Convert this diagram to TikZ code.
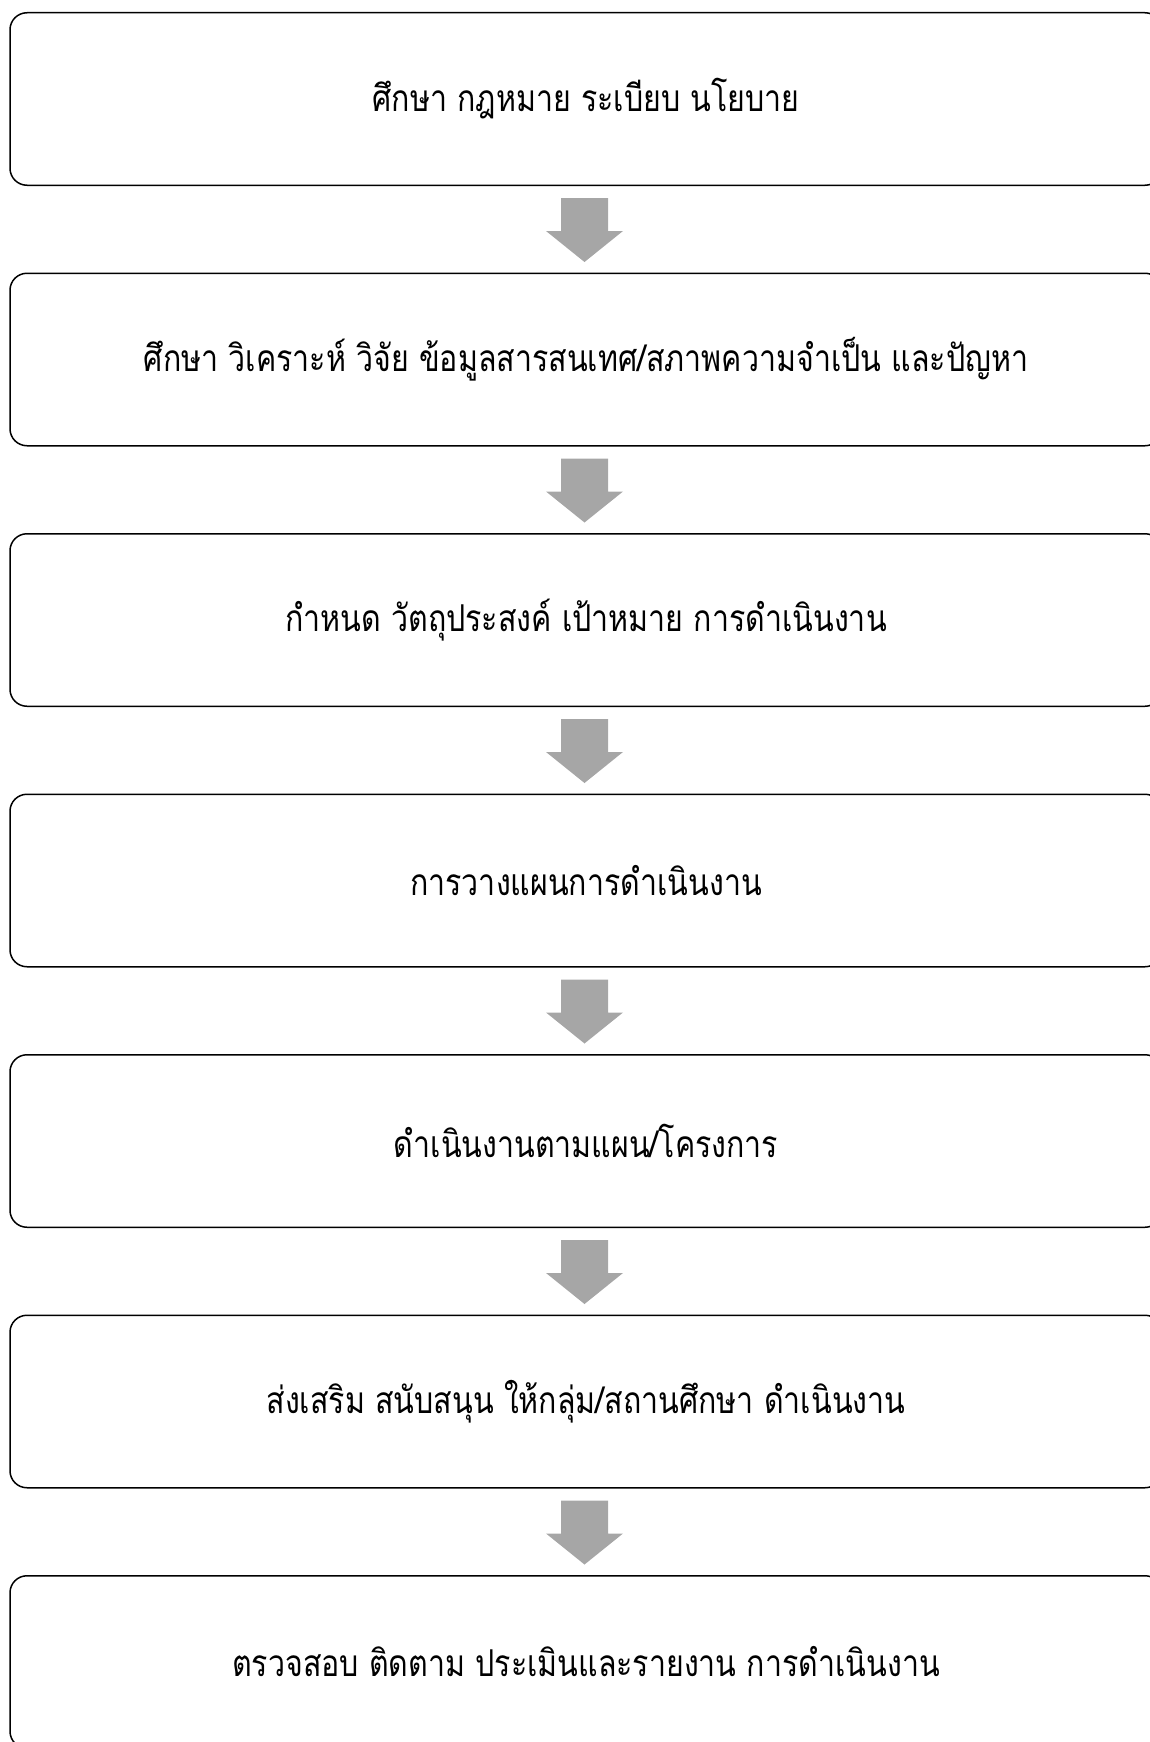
\documentclass[tikz,border=0pt]{standalone}
\usepackage{fontspec}
\newfontfamily\thaifont[Script=Thai,FakeStretch=0.82]{Loma}
\usetikzlibrary{calc}
\tikzset{
  stepbox/.style={draw=black,line width=1.5pt,rounded corners=17pt,minimum width=1152pt,minimum height=172.5pt,inner sep=0pt,font=\thaifont\fontsize{37pt}{44pt}\selectfont},
  blockarrow/.style={fill=black!35,draw=none}
}
\begin{document}
\begin{tikzpicture}[x=1pt,y=-1pt]
\useasboundingbox (0,0) rectangle (1149,1742);
\node[stepbox] (b1) at (586,99) {ศึกษา กฎหมาย ระเบียบ นโยบาย};
\node[stepbox] (b2) at (586,359.5) {ศึกษา วิเคราะห์ วิจัย ข้อมูลสารสนเทศ/สภาพความจำเป็น และปัญหา};
\node[stepbox] (b3) at (586,620) {กำหนด วัตถุประสงค์ เป้าหมาย การดำเนินงาน};
\node[stepbox] (b4) at (586,880.5) {การวางแผนการดำเนินงาน};
\node[stepbox] (b5) at (586,1141) {ดำเนินงานตามแผน/โครงการ};
\node[stepbox] (b6) at (586,1401.5) {ส่งเสริม สนับสนุน ให้กลุ่ม/สถานศึกษา ดำเนินงาน};
\node[stepbox] (b7) at (586,1662) {ตรวจสอบ ติดตาม ประเมินและรายงาน การดำเนินงาน};
\foreach \a in {b1,b2,b3,b4,b5,b6}{
  \fill[blockarrow] ($(\a.south)+(-25,12)$) -- ($(\a.south)+(22,12)$) -- ($(\a.south)+(22,45)$) -- ($(\a.south)+(37,45)$) -- ($(\a.south)+(-1.5,76)$) -- ($(\a.south)+(-40,45)$) -- ($(\a.south)+(-25,45)$) -- cycle;
}
\end{tikzpicture}
\end{document}
